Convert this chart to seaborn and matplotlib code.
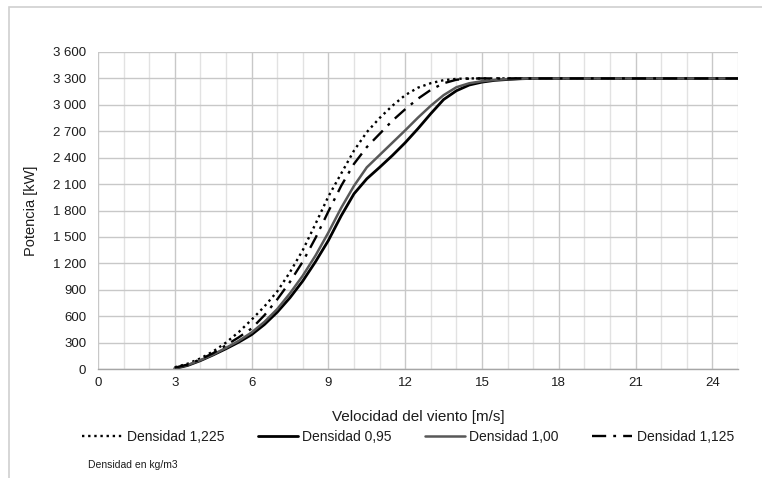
import matplotlib
matplotlib.use("Agg")
import matplotlib.pyplot as plt
import seaborn as sns
from matplotlib.patches import Rectangle

# wind speed [m/s]
speeds = [3, 3.5, 4, 4.5, 5, 5.5, 6, 6.5, 7, 7.5, 8, 8.5, 9, 9.5, 10, 10.5,
          11, 11.5, 12, 12.5, 13, 13.5, 14, 14.5, 15, 15.5, 16, 16.5, 17, 25]

# power [kW] per air density
p_1225 = [20, 60, 120, 200, 300, 420, 560, 710, 880, 1100, 1350, 1650, 1960, 2220, 2480, 2690,
          2850, 2990, 3110, 3195, 3246, 3280, 3295, 3300, 3300, 3300, 3300, 3300, 3300, 3300]
p_095 = [5, 40, 95, 160, 230, 305, 390, 505, 645, 810, 1000, 1220, 1460, 1740, 1990, 2160,
         2290, 2425, 2570, 2730, 2900, 3060, 3160, 3225, 3258, 3278, 3288, 3296, 3300, 3300]
p_100 = [10, 45, 100, 165, 240, 320, 415, 535, 680, 860, 1060, 1290, 1550, 1830, 2080, 2290,
         2430, 2570, 2710, 2855, 2990, 3110, 3200, 3245, 3268, 3283, 3292, 3297, 3300, 3300]
p_1125 = [15, 50, 110, 180, 270, 360, 460, 610, 790, 990, 1220, 1490, 1790, 2080, 2330, 2520,
          2670, 2820, 2950, 3070, 3170, 3245, 3285, 3298, 3300, 3300, 3300, 3300, 3300, 3300]

labels = ["Densidad 1,225", "Densidad 0,95", "Densidad 1,00", "Densidad 1,125"]

xticks = [0, 3, 6, 9, 12, 15, 18, 21, 24]
yticks = [0, 300, 600, 900, 1200, 1500, 1800, 2100, 2400, 2700, 3000, 3300, 3600]
ytick_labels = ["0", "300", "600", "900", "1 200", "1 500", "1 800", "2 100",
                "2 400", "2 700", "3 000", "3 300", "3 600"]

sns.set_style("white")
plt.rcParams['font.family'] = ['Liberation Sans', 'DejaVu Sans']
txt = "#1c1c1c"

W, H = 762, 478
fig = plt.figure(figsize=(W / 100, H / 100), dpi=100)
ax = fig.add_axes([98 / W, 1 - 369 / H, 640 / W, 317 / H])

# chart area border (cropped at right / bottom)
fig.patches.append(Rectangle((9 / W, -0.05), 1.2, 1 - 7 / H + 0.05, transform=fig.transFigure,
                             fill=False, edgecolor="#d0d0d0", linewidth=1.2))

sns.lineplot(x=speeds, y=p_1225, ax=ax, color="black", linewidth=1.7,
             linestyle=(0, (1, 1.6)), label=labels[0])
sns.lineplot(x=speeds, y=p_095, ax=ax, color="black", linewidth=2.0, label=labels[1])
sns.lineplot(x=speeds, y=p_100, ax=ax, color="#585858", linewidth=1.8, label=labels[2])
sns.lineplot(x=speeds, y=p_1125, ax=ax, color="black", linewidth=1.7,
             linestyle=(0, (6, 3, 1.2, 3)), label=labels[3])

ax.set_xlim(0, 25)
ax.set_ylim(0, 3600)
ax.set_xticks(xticks)
ax.set_xticks(range(0, 26), minor=True)
ax.set_yticks(yticks)
ax.set_yticklabels(ytick_labels)
ax.grid(True, which="major", color="#c8c8c8", linewidth=1.0)
ax.grid(True, which="minor", axis="x", color="#e2e2e2", linewidth=1.0)
ax.set_axisbelow(True)
for s in ["top", "right", "left"]:
    ax.spines[s].set_visible(False)
ax.spines["bottom"].set_color("#a6a6a6")
ax.spines["bottom"].set_linewidth(1.0)
ax.tick_params(axis="both", which="both", length=0, labelsize=9.5, labelcolor=txt)
ax.tick_params(axis="y", pad=8.5)
ax.tick_params(axis="x", pad=6)

ax.set_xlabel("Velocidad del viento [m/s]", fontsize=11, color=txt)
ax.set_ylabel("Potencia [kW]", fontsize=10.5, color=txt)
ax.xaxis.set_label_coords(0.5, -0.128)
ax.yaxis.set_label_coords(-0.094, 0.5)

handles, lbls = ax.get_legend_handles_labels()
ax.get_legend().remove()
fig.legend(handles, lbls, loc="center", bbox_to_anchor=(408 / W, 1 - 437 / H), ncol=4,
           frameon=False, fontsize=10, handlelength=2.9, handletextpad=0.3,
           columnspacing=2.4, labelcolor=txt)

fig.text(88 / W, 1 - 465 / H, "Densidad en kg/m3", fontsize=7.5, color=txt, va="center")

fig.savefig("out.png", dpi=100)
